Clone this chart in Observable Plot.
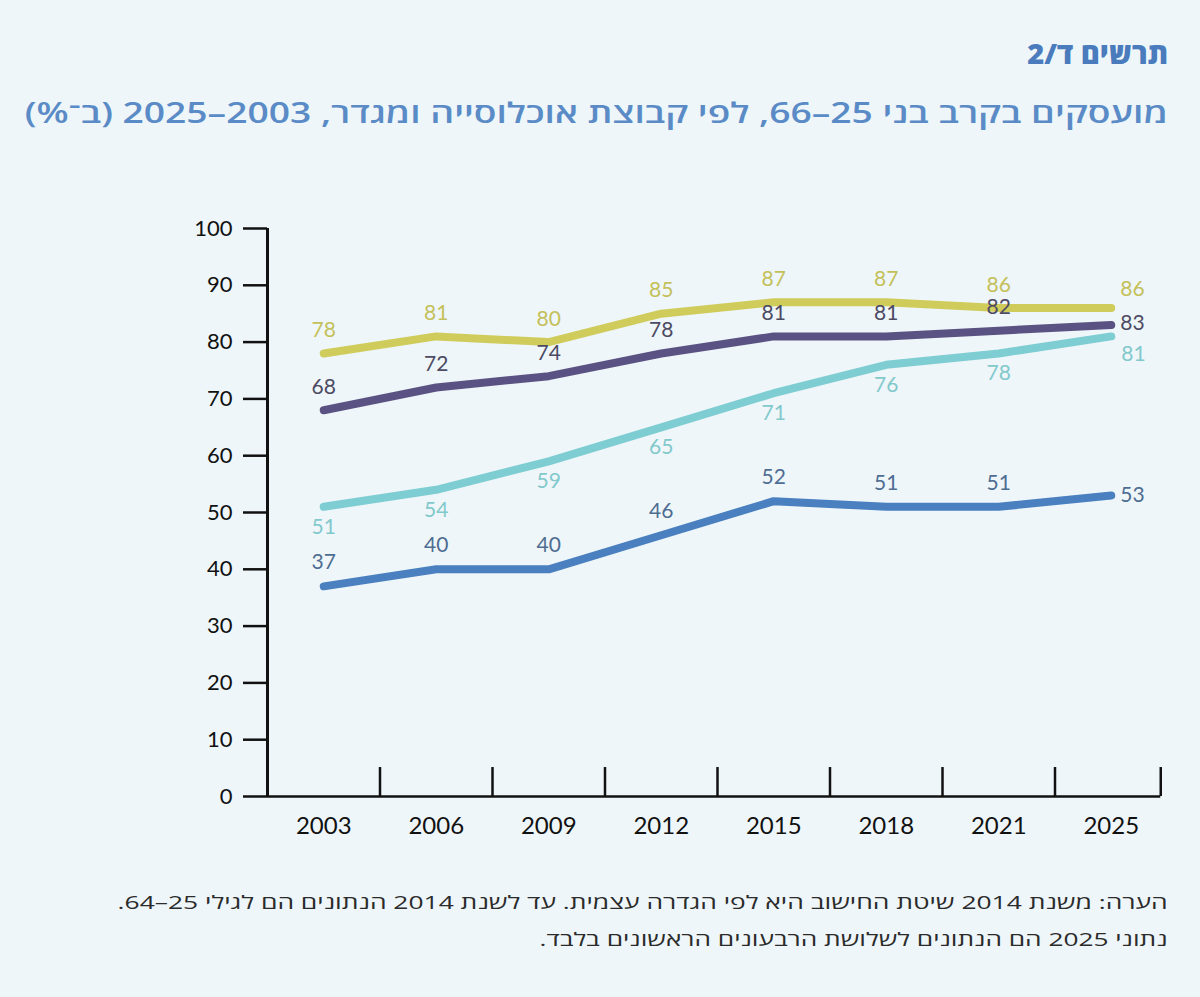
<!DOCTYPE html>
<html lang="he">
<head>
<meta charset="utf-8">
<script src="https://cdn.jsdelivr.net/npm/d3@7"></script>
<script src="https://cdn.jsdelivr.net/npm/@observablehq/plot@0.6"></script>
<style>
  html, body { margin: 0; padding: 0; }
  body { width: 1200px; height: 997px; background: #eef6f9; position: relative; overflow: hidden; }
  .title { position: absolute; right: 32px; top: 33px; direction: rtl; font-family: "Open Sans", "Liberation Sans", sans-serif; font-weight: 800; font-size: 29px; line-height: 40px; color: #4a7bbd; white-space: nowrap; }
  .subtitle { position: absolute; right: 32px; top: 92px; direction: rtl; font-family: "Open Sans", "DejaVu Sans", sans-serif; font-weight: 600; font-size: 28px; line-height: 40px; color: #5a8bc6; white-space: nowrap; transform-origin: right center; }
  #chart { position: absolute; left: 0; top: 180px; }
  .note { position: absolute; right: 32px; direction: rtl; font-family: "Open Sans", "DejaVu Sans", sans-serif; font-size: 18px; line-height: 37px; color: #2b2b2b; white-space: nowrap; transform-origin: right center; }
</style>
</head>
<body>
<div class="title">תרשים ד/2</div>
<div class="subtitle" data-fit="1143">מועסקים בקרב בני 25–66, לפי קבוצת אוכלוסייה ומגדר, 2003–2025 (ב־%)</div>
<div id="chart"></div>
<div class="note" style="top:884px" data-fit="1050">הערה: משנת 2014 שיטת החישוב היא לפי הגדרה עצמית. עד לשנת 2014 הנתונים הם לגילי 25–64.</div>
<div class="note" style="top:921px" data-fit="628">נתוני 2025 הם הנתונים לשלושת הרבעונים הראשונים בלבד.</div>
<script>
// ---- data ----
const years = ["2003", "2006", "2009", "2012", "2015", "2018", "2021", "2025"];
const seriesNames = ["גברים יהודים לא־חרדים", "נשים יהודיות לא־חרדיות", "נשים חרדיות", "גברים חרדים"];
const menNonHaredi   = [78, 81, 80, 85, 87, 87, 86, 86];
const womenNonHaredi = [68, 72, 74, 78, 81, 81, 82, 83];
const womenHaredi    = [51, 54, 59, 65, 71, 76, 78, 81];
const menHaredi      = [37, 40, 40, 46, 52, 51, 51, 53];
const yTicks = [0, 10, 20, 30, 40, 50, 60, 70, 80, 90, 100];

// ---- styles ----
const lineColors  = ["#d0cc5c", "#5a5282", "#7dcdd2", "#4a80c0"];
const labelColors = ["#c4c05a", "#4d4a63", "#82c9cc", "#4e6d92"];
const labelDy     = [-23, -23, 20, -24];
const lastDx      = [9, 9, 10, 9];
const lastDy      = [-19, -2, 18, 0];

const allValues = [menNonHaredi, womenNonHaredi, womenHaredi, menHaredi];
const rows = [];
allValues.forEach((vals, s) => vals.forEach((v, i) => rows.push({series: seriesNames[s], s, i, year: years[i], value: v})));

const n = years.length;
const separators = d3.range(n).map(i => i + 0.5);
separators[n - 1] = n - 0.56;

const marks = [
  Plot.ruleX([-0.5], {y1: 0, y2: 100, stroke: "#111", strokeWidth: 3}),
  Plot.ruleY([0], {x1: -0.5, x2: n - 0.56, stroke: "#111", strokeWidth: 2.5}),
  Plot.ruleX(separators, {y1: 0, y2: 5.1, stroke: "#111", strokeWidth: 2.5}),
  Plot.axisY({ticks: yTicks, tickSize: 24, tickPadding: 11, strokeWidth: 2.5, stroke: "#111", fontSize: 22, fill: "#111", label: null}),
  Plot.axisX({ticks: d3.range(n), tickFormat: i => years[i], tickSize: 0, tickPadding: 20, fontSize: 24, fill: "#111", label: null}),
  Plot.line(rows, {x: "i", y: "value", z: "series", stroke: d => lineColors[d.s], strokeWidth: 8, strokeLinecap: "round", strokeLinejoin: "round"})
];
seriesNames.forEach((name, s) => {
  const sub = rows.filter(d => d.s === s);
  marks.push(Plot.text(sub.filter(d => d.i < n - 1), {x: "i", y: "value", text: d => String(d.value), dy: labelDy[s], fill: labelColors[s], fontSize: 21}));
  marks.push(Plot.text(sub.filter(d => d.i === n - 1), {x: "i", y: "value", text: d => String(d.value), dx: lastDx[s], dy: lastDy[s], textAnchor: "start", fill: labelColors[s], fontSize: 21}));
});

const chart = Plot.plot({
  width: 1200,
  height: 700,
  marginTop: 48,
  marginBottom: 84,
  marginLeft: 267,
  marginRight: 33,
  style: {background: "transparent", fontFamily: "Lato, 'Open Sans', sans-serif"},
  x: {domain: [-0.5, n - 0.5], axis: null},
  y: {domain: [0, 100], axis: null},
  marks
});
document.getElementById("chart").appendChild(chart);

// stretch text lines horizontally to the widths measured on the reference
document.querySelectorAll("[data-fit]").forEach(el => {
  const target = +el.dataset.fit;
  const w = el.getBoundingClientRect().width;
  el.style.transform = `scaleX(${(target / w).toFixed(4)})`;
});
</script>
</body>
</html>
